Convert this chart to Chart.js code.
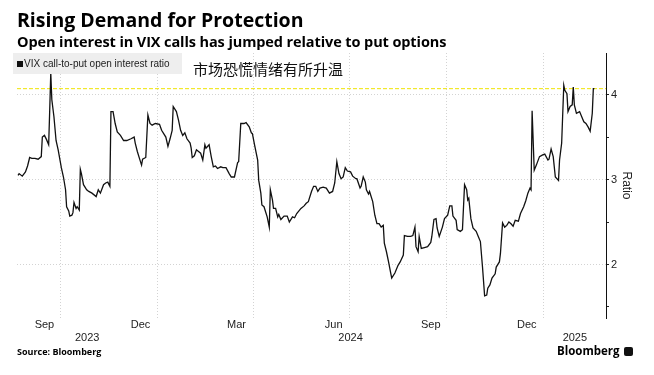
<!DOCTYPE html>
<html>
<head>
<meta charset="utf-8">
<script src="https://cdn.jsdelivr.net/npm/chart.js@4.4.1/dist/chart.umd.min.js"></script>
<style>
  body { margin: 0; background: #fff; }
  #wrap { position: relative; width: 654px; height: 375px; overflow: hidden; font-family: "Open Sans", "Liberation Sans", sans-serif; color: #000; }
  #c { position: absolute; left: 0; top: 0; }
  .t { position: absolute; white-space: nowrap; }
  #legend { left: 13px; top: 53px; width: 169px; height: 21px; background: #eeeeee; font-family: "Liberation Sans", sans-serif; font-size: 10px; line-height: 21px; color: #222; }
  #legend .sq { display: inline-block; width: 6px; height: 6px; background: #111; margin: 0 1px 0 4px; vertical-align: 0px; }
  #note { left: 193px; top: 58px; font-family: "Noto Sans CJK SC", sans-serif; font-size: 15px; color: #111; }
  #logo .ic { display: inline-block; width: 9px; height: 9px; background: #111; border-radius: 2px; margin-left: 4px; vertical-align: -1px; }
</style>
</head>
<body>
<div id="wrap">
  <canvas id="c" width="654" height="375"></canvas>
  <div class="t" style="left:17px;top:6px;font-size:19.5px;font-weight:bold;">Rising Demand for Protection</div>
  <div class="t" style="left:17px;top:32px;font-size:14.5px;font-weight:bold;letter-spacing:-0.1px;">Open interest in VIX calls has jumped relative to put options</div>
  <div class="t" id="legend"><span class="sq"></span>VIX call-to-put open interest ratio</div>
  <div class="t" id="note">市场恐慌情绪有所升温</div>
  <div class="t" style="left:17px;top:345px;font-size:9px;font-weight:bold;">Source: Bloomberg</div>
  <div class="t" id="logo" style="left:557px;top:343px;font-size:11.5px;font-weight:bold;">Bloomberg<span class="ic"></span></div>
</div>
<script>
// VIX call-to-put open interest ratio
const dates = [
  '2023-08-22','2023-08-23','2023-08-26','2023-08-29','2023-08-31','2023-09-02','2023-09-04','2023-09-07','2023-09-10','2023-09-13',
  '2023-09-14','2023-09-16','2023-09-18','2023-09-20','2023-09-21','2023-09-22','2023-09-23','2023-09-25','2023-09-27','2023-09-29',
  '2023-10-02','2023-10-04','2023-10-06','2023-10-07','2023-10-09','2023-10-10','2023-10-12','2023-10-13','2023-10-14','2023-10-16',
  '2023-10-17','2023-10-19','2023-10-20','2023-10-21','2023-10-23','2023-10-26','2023-10-28','2023-10-31',
  '2023-11-04','2023-11-06','2023-11-08','2023-11-11','2023-11-13','2023-11-15','2023-11-17','2023-11-18','2023-11-20','2023-11-22',
  '2023-11-24','2023-11-27','2023-11-30',
  '2023-12-03','2023-12-07','2023-12-10','2023-12-11','2023-12-13','2023-12-15','2023-12-17','2023-12-18','2023-12-21','2023-12-23',
  '2023-12-25','2023-12-27','2023-12-30',
  '2024-01-03','2024-01-05','2024-01-09','2024-01-11','2024-01-13','2024-01-15','2024-01-16','2024-01-19','2024-01-21','2024-01-23',
  '2024-01-25','2024-01-27','2024-01-29',
  '2024-02-01','2024-02-02','2024-02-03','2024-02-05','2024-02-07','2024-02-09','2024-02-11','2024-02-13','2024-02-15','2024-02-16',
  '2024-02-19','2024-02-21','2024-02-23','2024-02-25','2024-02-27',
  '2024-03-01','2024-03-03','2024-03-06','2024-03-09','2024-03-11','2024-03-14','2024-03-17','2024-03-18','2024-03-20','2024-03-23',
  '2024-03-25','2024-03-28','2024-03-30','2024-03-31',
  '2024-04-02','2024-04-05','2024-04-06','2024-04-08','2024-04-09','2024-04-11','2024-04-14','2024-04-16','2024-04-17','2024-04-19',
  '2024-04-20','2024-04-22','2024-04-24','2024-04-25','2024-04-27','2024-04-30',
  '2024-05-03','2024-05-05','2024-05-08','2024-05-10','2024-05-12','2024-05-16','2024-05-19','2024-05-21','2024-05-23','2024-05-26',
  '2024-05-28','2024-05-30',
  '2024-06-01','2024-06-03','2024-06-06','2024-06-09','2024-06-12','2024-06-15','2024-06-17','2024-06-19','2024-06-21','2024-06-23',
  '2024-06-25','2024-06-27','2024-06-29',
  '2024-07-02','2024-07-04','2024-07-07','2024-07-08','2024-07-11','2024-07-12','2024-07-14','2024-07-16','2024-07-17','2024-07-19',
  '2024-07-20','2024-07-23','2024-07-25','2024-07-27','2024-07-29','2024-07-31',
  '2024-08-02','2024-08-03','2024-08-05','2024-08-07','2024-08-09','2024-08-10','2024-08-13','2024-08-16','2024-08-18','2024-08-21',
  '2024-08-22','2024-08-25','2024-08-28','2024-08-30',
  '2024-09-01','2024-09-02','2024-09-04','2024-09-05','2024-09-07','2024-09-10','2024-09-13','2024-09-16','2024-09-17','2024-09-19',
  '2024-09-21','2024-09-22','2024-09-24','2024-09-27','2024-09-29',
  '2024-10-02','2024-10-04','2024-10-06','2024-10-07','2024-10-10','2024-10-11','2024-10-14','2024-10-16','2024-10-18','2024-10-20',
  '2024-10-21','2024-10-22','2024-10-24','2024-10-26','2024-10-29','2024-10-31',
  '2024-11-02','2024-11-04','2024-11-06','2024-11-08','2024-11-09','2024-11-11','2024-11-13','2024-11-16','2024-11-17','2024-11-20',
  '2024-11-21','2024-11-23','2024-11-25','2024-11-27','2024-11-29',
  '2024-12-01','2024-12-03','2024-12-05','2024-12-08','2024-12-10','2024-12-13','2024-12-15','2024-12-17','2024-12-19','2024-12-20',
  '2024-12-21','2024-12-23','2024-12-25','2024-12-28','2024-12-31',
  '2025-01-02','2025-01-05','2025-01-06','2025-01-08','2025-01-10','2025-01-12','2025-01-15','2025-01-16','2025-01-18','2025-01-20',
  '2025-01-21','2025-01-23','2025-01-24','2025-01-26','2025-01-28','2025-01-29','2025-01-30',
  '2025-02-01','2025-02-04','2025-02-06','2025-02-08','2025-02-10','2025-02-12','2025-02-14','2025-02-16','2025-02-17','2025-02-18'
];
const ratio = [
  3.05,3.07,3.04,3.09,3.16,3.26,3.25,3.25,3.24,3.27,
  3.50,3.52,3.47,3.41,3.82,4.25,3.94,3.74,3.46,3.35,
  3.14,3.03,2.88,2.68,2.63,2.57,2.58,2.61,2.73,2.66,
  2.68,2.64,3.12,3.07,2.94,2.88,2.86,2.84,
  2.80,2.88,2.84,2.94,2.96,2.97,2.92,3.80,3.80,3.66,
  3.56,3.52,3.46,
  3.46,3.48,3.50,3.43,3.33,3.25,3.17,3.24,3.26,3.76,
  3.66,3.64,3.66,
  3.65,3.58,3.50,3.39,3.48,3.58,3.86,3.80,3.70,3.58,
  3.52,3.55,3.48,
  3.43,3.37,3.26,3.28,3.35,3.33,3.31,3.23,3.41,3.37,
  3.41,3.27,3.15,3.16,3.13,
  3.15,3.14,3.14,3.07,3.03,3.03,3.20,3.21,3.66,3.66,
  3.67,3.62,3.55,3.54,
  3.41,3.23,2.99,2.84,2.70,2.68,2.56,2.44,2.88,2.76,
  2.66,2.66,2.56,2.59,2.53,2.57,
  2.57,2.50,2.56,2.55,2.60,2.66,2.69,2.72,2.74,2.86,
  2.92,2.92,
  2.86,2.90,2.91,2.90,2.84,2.86,2.96,3.21,3.07,3.01,
  3.03,3.14,3.10,
  3.09,3.04,3.01,3.01,2.90,2.92,3.03,2.97,2.88,2.83,
  2.86,2.74,2.58,2.48,2.48,2.44,
  2.46,2.25,2.15,2.03,1.90,1.84,1.90,1.99,2.03,2.11,
  2.34,2.33,2.33,2.34,
  2.44,2.21,2.15,2.33,2.19,2.20,2.21,2.26,2.33,2.53,
  2.54,2.43,2.33,2.44,2.54,
  2.58,2.69,2.69,2.57,2.52,2.41,2.39,2.41,2.94,2.88,
  2.76,2.78,2.54,2.43,2.39,2.33,
  2.27,1.97,1.63,1.64,1.72,1.76,1.84,1.89,1.97,2.03,
  2.13,2.49,2.44,2.46,2.50,
  2.48,2.45,2.52,2.51,2.60,2.68,2.75,2.84,2.90,2.88,
  3.81,3.11,3.17,3.27,3.29,
  3.30,3.23,3.24,3.36,3.27,3.03,2.99,3.23,3.43,4.11,
  4.05,4.01,3.80,3.86,3.88,4.09,3.88,
  3.78,3.80,3.74,3.68,3.66,3.62,3.57,3.78,4.07,4.07
];
const latestLevel = 4.07;

const xStart = '2023-08-21';
const xEnd = '2025-03-01';
const gridDates = ['2023-10-01','2024-01-01','2024-04-01','2024-07-01','2024-10-01','2025-01-01'];
const monthTickDates = ['2023-09-16','2023-12-16','2024-03-16','2024-06-16','2024-09-16','2024-12-16'];
const monthTickLabels = ['Sep','Dec','Mar','Jun','Sep','Dec'];
const yearLabels = ['2023','2024','2025'];
const yTicks = [1.5, 2, 2.5, 3, 3.5, 4];
const yMin = 1.37, yMax = 4.49;

const day = s => Date.parse(s) / 864e5;
const xMin = day(xStart), xMax = day(xEnd);
// year label sits in the middle of the visible part of each year
const yearTicks = yearLabels.map(y => {
  const a = Math.max(xMin, day(y + '-01-01'));
  const b = Math.min(xMax, day((+y + 1) + '-01-01'));
  return (a + b) / 2;
});

const tickFont = { family: 'Liberation Sans', size: 11 };
const gridColor = '#d3d3d3';

new Chart(document.getElementById('c'), {
  type: 'line',
  data: {
    datasets: [
      {
        data: dates.map((d, i) => ({ x: day(d), y: ratio[i] })),
        borderColor: '#111',
        borderWidth: 1.3,
        pointRadius: 0,
        tension: 0,
        xAxisID: 'x',
        yAxisID: 'y',
        order: 0
      },
      {
        data: [{ x: xMin, y: latestLevel }, { x: xMax, y: latestLevel }],
        borderColor: '#f0e400',
        borderWidth: 1,
        borderDash: [4, 2],
        pointRadius: 0,
        xAxisID: 'x',
        yAxisID: 'y',
        order: 1
      }
    ]
  },
  options: {
    responsive: false,
    animation: false,
    layout: { padding: { left: 17, top: 53, right: 18, bottom: 31 } },
    plugins: { legend: { display: false }, tooltip: { enabled: false } },
    scales: {
      x: {
        type: 'linear', position: 'bottom', min: xMin, max: xMax, weight: 0,
        afterBuildTicks: s => { s.ticks = gridDates.map(d => ({ value: day(d) })); },
        grid: { color: gridColor, drawTicks: false },
        border: { display: false, dash: [1, 2] },
        ticks: { display: false },
        afterFit: s => { s.height = 0; }
      },
      xm: {
        type: 'linear', position: 'bottom', min: xMin, max: xMax, weight: 1,
        afterBuildTicks: s => { s.ticks = monthTickDates.map(d => ({ value: day(d) })); },
        grid: { display: false, drawTicks: false },
        border: { display: false },
        ticks: { autoSkip: false, maxRotation: 0, padding: 0, color: '#222', font: tickFont,
                 callback: (v, i) => monthTickLabels[i] },
        afterFit: s => { s.height = 13; }
      },
      xy: {
        type: 'linear', position: 'bottom', min: xMin, max: xMax, weight: 2,
        afterBuildTicks: s => { s.ticks = yearTicks.map(v => ({ value: v })); },
        grid: { display: false, drawTicks: false },
        border: { display: false },
        ticks: { autoSkip: false, maxRotation: 0, padding: 0, color: '#222', font: tickFont,
                 callback: (v, i) => yearLabels[i] },
        afterFit: s => { s.height = 13; }
      },
      y: {
        position: 'right', min: yMin, max: yMax,
        afterBuildTicks: s => { s.ticks = yTicks.map(v => ({ value: v })); },
        grid: {
          color: c => Number.isInteger(c.tick.value) ? gridColor : 'rgba(0,0,0,0)',
          tickColor: '#222', tickLength: 3, drawTicks: true
        },
        border: { display: true, color: '#111', width: 1, dash: [1, 2] },
        ticks: { padding: 2, color: '#222', font: tickFont,
                 callback: v => Number.isInteger(v) ? String(v) : '' },
        title: { display: true, text: 'Ratio', color: '#222', padding: { top: 2, bottom: 0 },
                 font: { family: 'Liberation Sans', size: 12 } },
        afterFit: s => { s.width = 30; }
      }
    }
  }
});
</script>
</body>
</html>
